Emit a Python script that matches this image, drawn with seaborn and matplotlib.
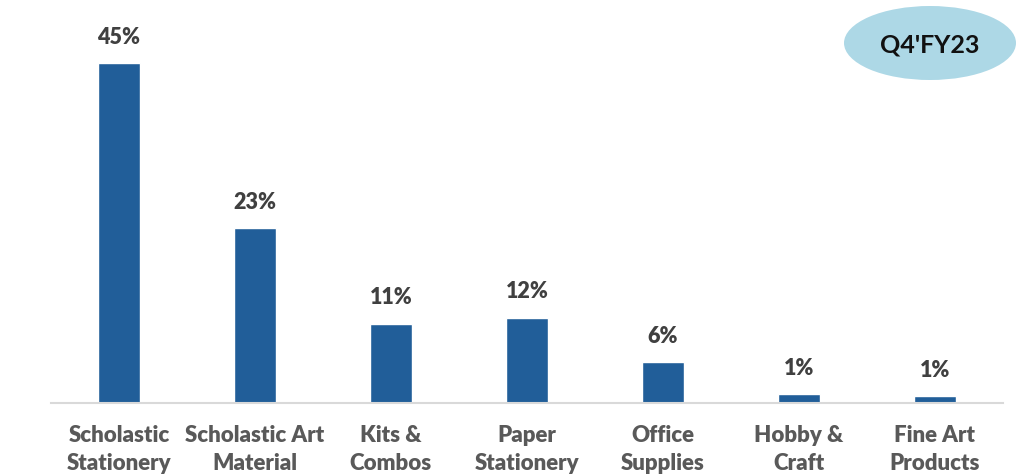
import matplotlib
matplotlib.use("Agg")
import matplotlib.pyplot as plt
import seaborn as sns
import pandas as pd
from matplotlib.patches import Ellipse

categories = ["Scholastic\nStationery", "Scholastic Art\nMaterial", "Kits &\nCombos",
              "Paper\nStationery", "Office\nSupplies", "Hobby &\nCraft", "Fine Art\nProducts"]
values = [45.0, 23.1, 10.5, 11.3, 5.4, 1.15, 0.93]
value_labels = ["45%", "23%", "11%", "12%", "6%", "1%", "1%"]
badge_text = "Q4'FY23"

sns.set_theme(style="white")
plt.rcParams['font.family'] = ['Lato', 'DejaVu Sans']

df = pd.DataFrame({"category": categories, "value": values})

fig = plt.figure(figsize=(10.16, 4.75), dpi=100)
ax = fig.add_axes([51/1016, (475-403)/475, 952/1016, 393/475])
sns.barplot(data=df, x="category", y="value", color="#215E99", width=0.31,
            saturation=1, ax=ax)

ax.set_xlim(-0.5, 6.5)
ax.set_ylim(0, 52)
for i, (v, lab) in enumerate(zip(values, value_labels)):
    ax.annotate(lab, (i, v), xytext=(0, 18.5), textcoords="offset points",
                ha="center", va="center", fontsize=15.5, fontweight="heavy",
                color="#404040")

ax.set_xlabel("")
ax.set_ylabel("")
ax.set_yticks([])
ax.tick_params(axis="x", length=0, pad=16, labelsize=16, labelcolor="#595959")
for t in ax.get_xticklabels():
    t.set_fontweight("heavy")
    t.set_linespacing(1.4)
for s in ["top", "left", "right"]:
    ax.spines[s].set_visible(False)
ax.spines["bottom"].set_color("#D9D9D9")
ax.spines["bottom"].set_linewidth(1.5)

ell = Ellipse((930/1016, 1 - 43/475), 172/1016, 74/475, transform=fig.transFigure,
              facecolor="#ADD8E6", edgecolor="none")
fig.patches.append(ell)
fig.text(930/1016, 1 - 45/475, badge_text, ha="center", va="center",
         fontsize=18, fontweight="bold", color="#111111")

fig.savefig("out.png", dpi=100)
